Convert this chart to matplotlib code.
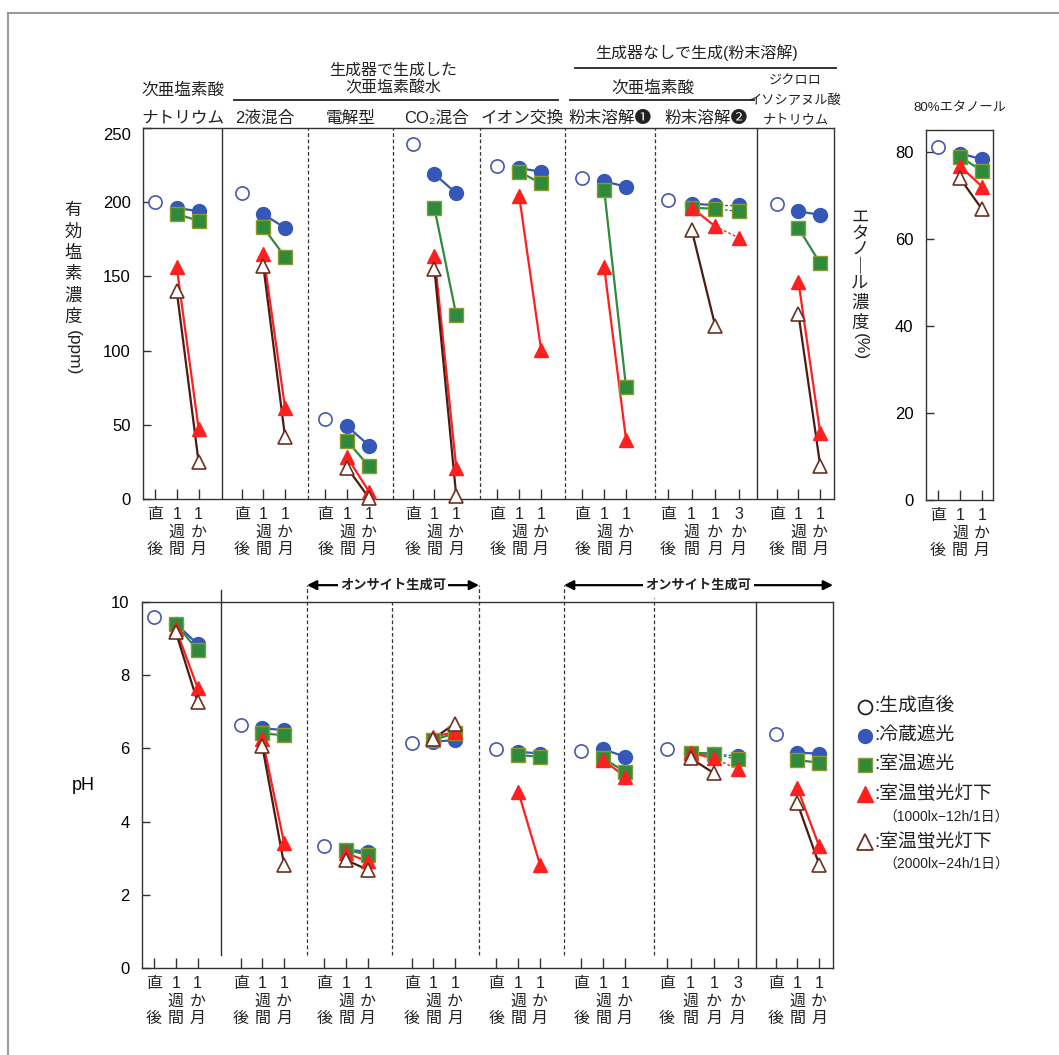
import numpy as np
import matplotlib
matplotlib.use('Agg')
import matplotlib.pyplot as plt
import matplotlib.transforms as mtrans
from matplotlib.lines import Line2D

plt.rcParams['font.family'] = ['Liberation Sans', 'Noto Sans CJK JP', 'DejaVu Sans']

# ---- data ----
# panels: NaClO, 2液混合, 電解型, CO2混合, イオン交換, 粉末溶解1, 粉末溶解2, ジクロロイソシアヌル酸Na
n_points = [3, 3, 3, 3, 3, 3, 4, 3]
tick_labels = [['直', '', '後'], ['1', '週', '間'], ['1', 'か', '月'], ['3', 'か', '月']]

# effective chlorine (ppm)
cl_fresh = [200, 206.5, 54, 239, 224.5, 216, 201.5, 199]
cl_cold = [[196, 194], [192, 182.6], [49, 36], [219, 206], [223, 220.5],
           [214, 210.5], [199, 198, 198], [193.8, 191.5]]
cl_room = [[192, 187.5], [183, 163], [39, 22], [196, 124], [220.5, 212.7],
           [208, 75.4], [196.4, 195.5, 193.8], [182.6, 158.7]]
cl_light1 = [[156, 47.5], [165, 61], [28, 5], [164, 21], [204, 100.7],
             [156, 40], [196.4, 183.7, 176], [146.4, 44.2]]
cl_light2 = [[140, 25], [157, 41.5], [21, 0.7], [155, 2], None,
             None, [181.5, 116.7], [124.6, 22.3]]

# pH
ph_fresh = [9.59, 6.64, 3.32, 6.16, 5.98, 5.94, 5.98, 6.39]
ph_cold = [[9.41, 8.85], [6.55, 6.5], [3.23, 3.18], [6.18, 6.23], [5.91, 5.86],
           [5.98, 5.77], [5.88, 5.85, 5.79], [5.88, 5.86]]
ph_room = [[9.41, 8.68], [6.41, 6.36], [3.23, 3.09], [6.23, 6.41], [5.82, 5.77],
           [5.73, 5.36], [5.88, 5.85, 5.7], [5.68, 5.61]]
ph_light1 = [[9.27, 7.66], [6.27, 3.41], [3.14, 2.91], [6.32, 6.45], [4.82, 2.82],
             [5.68, 5.23], [5.88, 5.73, 5.43], [4.91, 3.32]]
ph_light2 = [[9.18, 7.27], [6.06, 2.82], [2.95, 2.68], [6.27, 6.68], None,
             None, [5.73, 5.32], [4.5, 2.82]]

# 80% ethanol (%)
et_fresh = 81
et_cold = [79.6, 78.3]
et_room = [78.9, 75.6]
et_light1 = [76.7, 72]
et_light2 = [73.9, 66.8]

# ---- layout ----
panel_widths = [3.62, 3.95, 3.90, 3.99, 3.90, 4.13, 4.68, 3.53]
panel_lead = [0.55, 0.90, 0.80, 0.90, 0.80, 0.80, 0.60, 0.90]
panel_step = [1.0, 1.0, 1.0, 1.0, 1.0, 1.0, 1.08, 1.0]
edges = np.concatenate([[0], np.cumsum(panel_widths)])
centers = (edges[:-1] + edges[1:]) / 2
point_x = [[edges[i] + panel_lead[i] + k * panel_step[i] for k in range(n_points[i])]
           for i in range(8)]

blue = '#3557b7'
green = '#2f8a3c'
red = '#ff1f1f'
brown = '#4a1c12'
dark = '#333333'

st_fresh = dict(marker='o', ms=9.5, mfc='white', mec='#4658b0', mew=1.2, ls='none')
series_styles = [
    dict(color=blue, marker='o', ms=10, mfc=blue, mec=blue, mew=1),
    dict(color=green, marker='s', ms=9.5, mfc=green, mec='#8c9a2c', mew=1),
    dict(color=red, marker='^', ms=10.5, mfc=red, mec=red, mew=1),
    dict(color=brown, marker='^', ms=10.5, mfc='white', mec='#6a3020', mew=1.2),
]

fig = plt.figure(figsize=(10.59, 10.55), dpi=100)


def fx(px):
    return px / 1059


def fy(py):
    return 1 - py / 1055


def draw_series(ax, xs, vals, st):
    lw = 1.6
    if len(vals) > 2:
        ax.plot(xs[:2], vals[:2], color=st['color'], lw=lw, zorder=3, clip_on=False)
        ax.plot(xs[1:3], vals[1:3], color=st['color'], lw=1.0, ls=(0, (2, 1.5)), zorder=3,
                clip_on=False)
    else:
        ax.plot(xs, vals, color=st['color'], lw=lw, zorder=3, clip_on=False)
    ax.plot(xs, vals, ls='none', marker=st['marker'], ms=st['ms'], mfc=st['mfc'],
            mec=st['mec'], mew=st['mew'], zorder=4, clip_on=False)


def draw_panels(ax, fresh, series):
    for i in range(8):
        xs = point_x[i]
        ax.plot(xs[0], fresh[i], zorder=4, clip_on=False, **st_fresh)
        for vals, st in zip(series, series_styles):
            v = vals[i]
            if v is None:
                continue
            draw_series(ax, xs[1:1 + len(v)], v, st)


def style_axes(ax):
    for s in ax.spines.values():
        s.set_color(dark)
        s.set_linewidth(1.0)
    ax.tick_params(direction='in', length=6, width=1, color=dark, labelsize=12, pad=9)
    ax.tick_params(axis='x', labelbottom=False, length=7)


def xlabels(ax, xs, labels):
    for x, rows in zip(xs, labels):
        for r, ch in enumerate(rows):
            if ch:
                ax.annotate(ch, xy=(x, 0), xycoords=('data', 'axes fraction'),
                            xytext=(0, -11 - 12.8 * r), textcoords='offset points',
                            ha='center', va='center', fontsize=11.5, color='#222')


def labels_for(n):
    if n == 4:
        return [tick_labels[0], tick_labels[1], tick_labels[2], tick_labels[3]]
    return [tick_labels[0], tick_labels[1], tick_labels[2]]


all_x = [x for xs in point_x for x in xs]
all_lab = [l for i in range(8) for l in labels_for(n_points[i])]

# ---- top: chlorine ----
ax1 = fig.add_axes([fx(143), fy(499), fx(834) - fx(143), fy(128) - fy(499)])
style_axes(ax1)
ax1.set_xlim(0, edges[-1])
ax1.set_ylim(0, 250)
ax1.set_yticks([0, 50, 100, 150, 200, 250])
ax1.set_xticks(all_x)
ylab = ax1.get_yticklabels()
ylab[-1].set_va('top')
for i in range(1, 8):
    solid = i in (1, 7)
    ax1.axvline(edges[i], color=dark, lw=1.0 if solid else 0.9,
                ls='-' if solid else (0, (3, 2)), zorder=1)
draw_panels(ax1, cl_fresh, [cl_cold, cl_room, cl_light1, cl_light2])
xlabels(ax1, all_x, all_lab)

t1 = mtrans.blended_transform_factory(ax1.transData, ax1.transAxes)
hkw = dict(transform=t1, ha='center', va='center', color='#222', clip_on=False)
ax1.text(centers[0], 1.102, '次亜塩素酸', fontsize=12, **hkw)
ax1.text(centers[0], 1.027, 'ナトリウム', fontsize=12, **hkw)
subs = ['2液混合', '電解型', 'CO₂混合', 'イオン交換', '粉末溶解❶', '粉末溶解❷']
for i, s in enumerate(subs):
    ax1.text(centers[i + 1], 1.027, s, fontsize=12, **hkw)
ax1.text(centers[7], 1.124, 'ジクロロ', fontsize=9.5, **hkw)
ax1.text(centers[7], 1.075, 'イソシアヌル酸', fontsize=9.5, **hkw)
ax1.text(centers[7], 1.022, 'ナトリウム', fontsize=9.5, **hkw)
ax1.text(edges[3], 1.156, '生成器で生成した', fontsize=11.5, **hkw)
ax1.text(edges[3], 1.108, '次亜塩素酸水', fontsize=11.5, **hkw)
ax1.add_line(Line2D([edges[1] + 0.55, edges[5] - 0.3], [1.075, 1.075], transform=t1,
                    color='#222', lw=1.3, clip_on=False))
ax1.text(25.4, 1.202, '生成器なしで生成(粉末溶解)', fontsize=11.5, **hkw)
ax1.add_line(Line2D([edges[5] + 0.45, edges[8] + 0.1], [1.162, 1.162], transform=t1,
                    color='#222', lw=1.3, clip_on=False))
ax1.text(23.4, 1.108, '次亜塩素酸', fontsize=12, **hkw)
ax1.add_line(Line2D([edges[5] + 0.25, edges[7] - 0.15], [1.075, 1.075], transform=t1,
                    color='#222', lw=1.3, clip_on=False))

# y label stacked vertically
for k, ch in enumerate('有効塩素濃度'):
    fig.text(fx(73), fy(210 + 21.4 * k), ch, ha='center', va='center', fontsize=12.5, color='#222')
fig.text(fx(73), fy(353), '(ppm)', ha='center', va='center', fontsize=12.5, rotation=-90, color='#222')

# ---- ethanol ----
axe = fig.add_axes([fx(926), fy(500), fx(993) - fx(926), fy(130) - fy(500)])
style_axes(axe)
axe.set_xlim(-0.55, 2.5)
axe.set_ylim(0, 85)
axe.set_yticks([0, 20, 40, 60, 80])
axe.set_xticks([0, 1, 2])
axe.plot(0, et_fresh, zorder=4, **st_fresh)
for vals, st in zip([et_cold, et_room, et_light1, et_light2], series_styles):
    draw_series(axe, [1, 2], vals, st)
xlabels(axe, [0, 1, 2], labels_for(3))
axe.text(0.5, 1.059, '80%エタノール', transform=axe.transAxes, ha='center', va='center',
         fontsize=9.5, color='#222')
for ch, yp in zip('エタノ｜ル濃度', [217, 234, 250, 266, 283, 303, 323]):
    fig.text(fx(860), fy(yp), ch, ha='center', va='center', fontsize=12.5, color='#222')
fig.text(fx(860), fy(347), '(%)', ha='center', va='center', fontsize=12.5, rotation=-90, color='#222')

# ---- bottom: pH ----
ax2 = fig.add_axes([fx(142), fy(968), fx(833) - fx(142), fy(602) - fy(968)])
style_axes(ax2)
ax2.set_xlim(0, edges[-1])
ax2.set_ylim(0, 10)
ax2.set_yticks([0, 2, 4, 6, 8, 10])
ax2.set_xticks(all_x)
t2 = mtrans.blended_transform_factory(ax2.transData, ax2.transAxes)
sep_tops = [1.033, 1.046, 1.0, 1.046, 1.046, 1.01, 1.0]
for i in range(1, 8):
    solid = i in (1, 7)
    y0 = 0 if i == 7 else 0.036
    ax2.add_line(Line2D([edges[i], edges[i]], [y0, sep_tops[i - 1]], transform=t2,
                        color=dark, lw=1.0 if solid else 0.9,
                        ls='-' if solid else (0, (3, 2)), clip_on=False, zorder=1))
draw_panels(ax2, ph_fresh, [ph_cold, ph_room, ph_light1, ph_light2])
xlabels(ax2, all_x, all_lab)
ax2.text(-0.085, 0.5, 'pH', transform=ax2.transAxes, ha='center', va='center', fontsize=13)

for a, b in [(edges[2], edges[4]), (edges[5], edges[8])]:
    ax2.annotate('', xy=(b, 1.046), xytext=(a, 1.046), xycoords=t2, textcoords=t2,
                 arrowprops=dict(arrowstyle='<|-|>', color='black', lw=1.6,
                                 mutation_scale=14, shrinkA=0, shrinkB=0))
    ax2.text((a + b) / 2, 1.046, 'オンサイト生成可', transform=t2, ha='center', va='center',
             fontsize=9.5, fontweight='semibold', color='#222',
             bbox=dict(fc='white', ec='none', pad=1.5))

# ---- legend ----
leg_items = [
    (dict(marker='o', ms=10, mfc='white', mec='#222', mew=1.3), ':生成直後', 707),
    (dict(marker='o', ms=10, mfc=blue, mec=blue, mew=1), ':冷蔵遮光', 736),
    (dict(marker='s', ms=9.5, mfc=green, mec='#8c9a2c', mew=1), ':室温遮光', 765),
    (dict(marker='^', ms=11, mfc=red, mec=red, mew=1), ':室温蛍光灯下', 794),
    (dict(marker='^', ms=11, mfc='white', mec='#6a3020', mew=1.3), ':室温蛍光灯下', 842),
]
for mk, txt, yp in leg_items:
    fig.add_artist(Line2D([fx(865)], [fy(yp)], transform=fig.transFigure, ls='none', **mk))
    fig.text(fx(874), fy(yp), txt, ha='left', va='center', fontsize=13.5, color='#222')
fig.text(fx(883), fy(818), '（1000lx−12h/1日）', ha='left', va='center', fontsize=10, color='#222')
fig.text(fx(883), fy(865), '（2000lx−24h/1日）', ha='left', va='center', fontsize=10, color='#222')

# outer frame (top and left edges visible)
fig.add_artist(Line2D([fx(8), 1.0], [fy(13), fy(13)], transform=fig.transFigure,
                      color='#9a9a9a', lw=1.5))
fig.add_artist(Line2D([fx(8), fx(8)], [fy(13), 0.0], transform=fig.transFigure,
                      color='#9a9a9a', lw=1.5))

fig.savefig('out.png', dpi=100)
